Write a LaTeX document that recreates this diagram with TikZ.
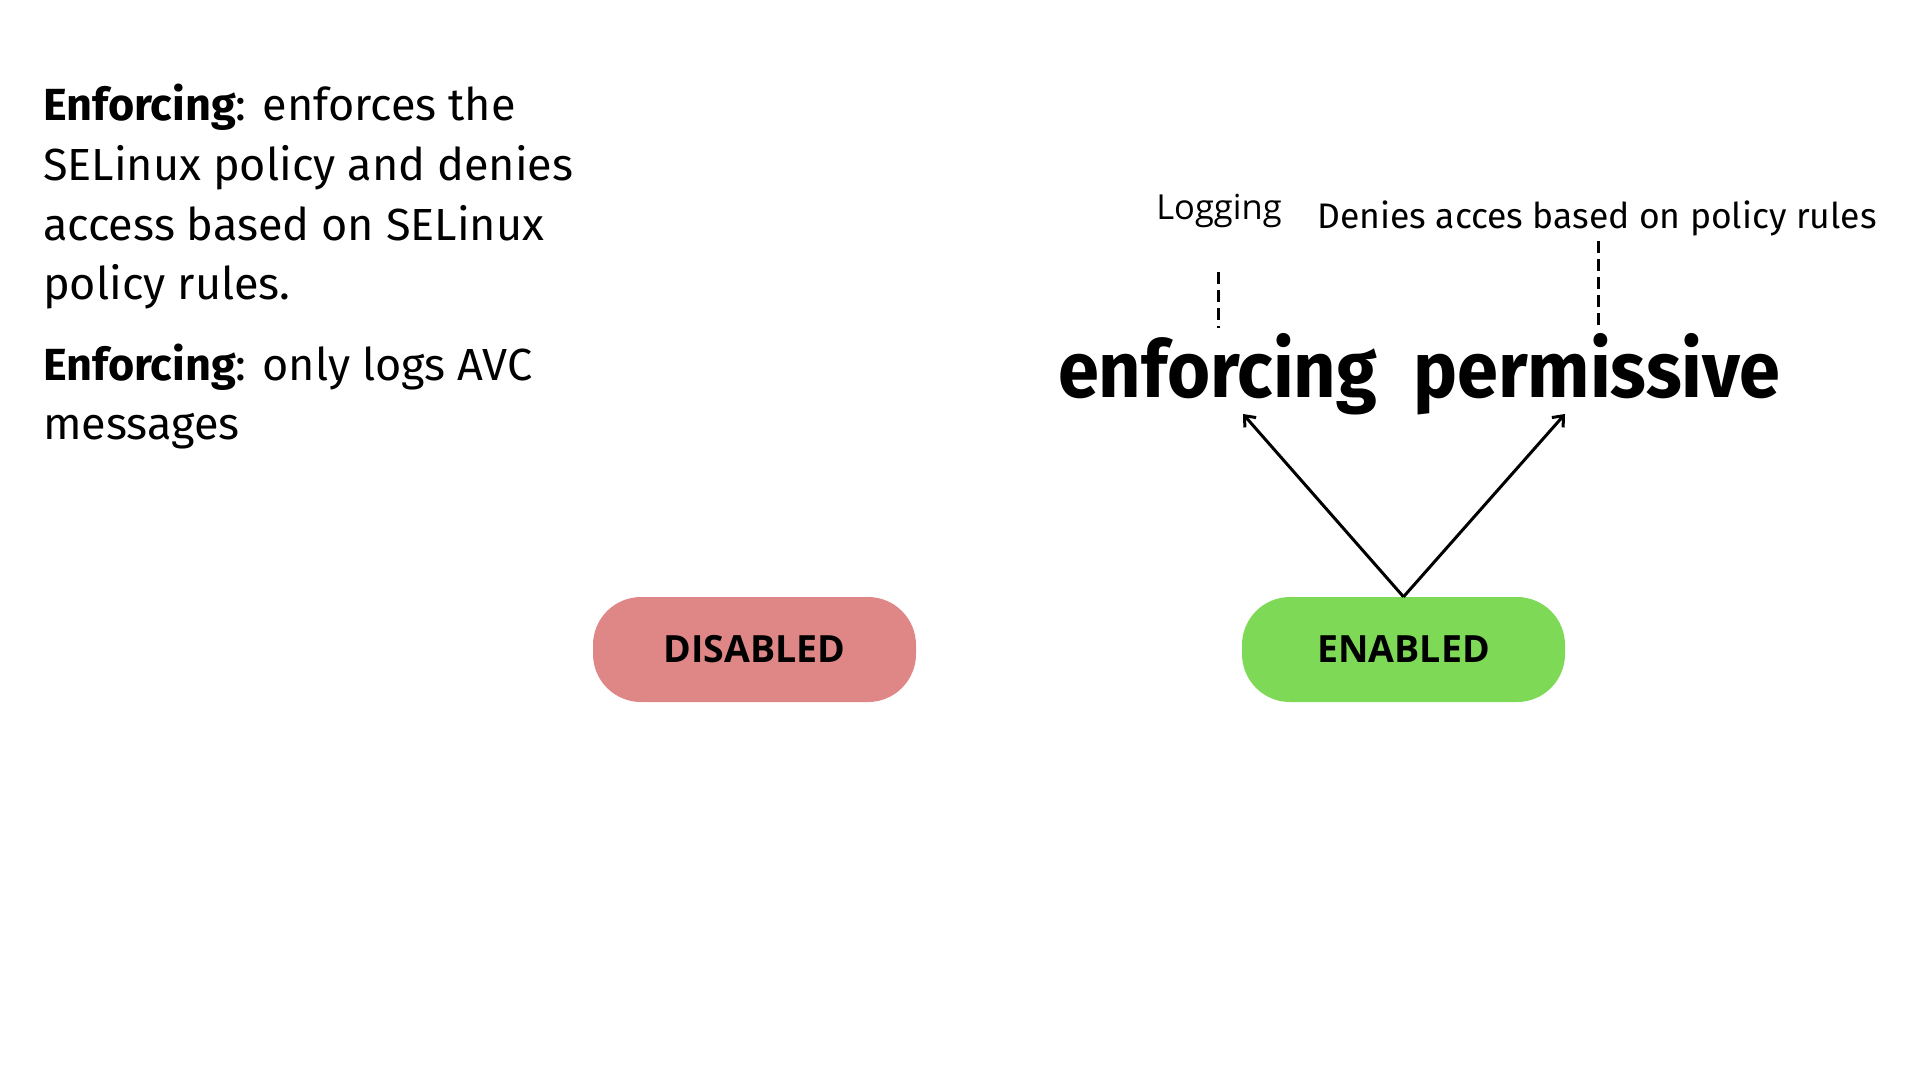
\documentclass[tikz,border=0pt]{standalone}
\usepackage{fontspec}
\setmainfont{Fira Sans}
\newfontfamily\labfont{Open Sans}
\newfontfamily\bigfont{Fira Sans}[FakeStretch=0.935]
\usetikzlibrary{arrows.meta}
\definecolor{disred}{HTML}{DF8686}
\definecolor{engreen}{HTML}{7ED957}
\tikzset{
  bodytext/.style={anchor=base west, inner sep=0pt, font=\fontsize{45}{60}\selectfont},
  bigword/.style={anchor=base west, inner sep=0pt, font=\bigfont\fontsize{79}{90}\selectfont\bfseries},
  smalllab/.style={anchor=base, inner sep=0pt},
  pill/.style={minimum width=323pt, minimum height=105pt, rounded corners=48pt, inner sep=0pt,
    font=\labfont\bfseries\fontsize{37.5}{40}\selectfont},
  guide/.style={line width=3pt, dash pattern=on 12pt off 6pt},
  pointer/.style={line width=3pt, -{Straight Barb[length=9pt,width=15pt,line width=3pt]}}
}
\begin{document}
\begin{tikzpicture}[x=1pt,y=-1pt]
\useasboundingbox (0,0) rectangle (1920,1080);
% left description
\node[bodytext] (l1) at (43,120) {\textbf{Enforcing}: enforces the};
\node[bodytext] (l2) at (43,180) {SELinux policy and denies};
\node[bodytext] (l3) at (43,240) {access based on SELinux};
\node[bodytext] (l4) at (43,299) {policy rules.};
\node[bodytext] (l5) at (43,380) {\textbf{Enforcing}: only logs AVC};
\node[bodytext] (l6) at (43,439) {messages};
% big words
\node[bigword] (enf) at (1058,397) {enforcing};
\node[bigword] (perm) at (1413,397) {permissive};
% annotations
\node[smalllab, font=\labfont\fontsize{34.5}{40}\selectfont] (log) at (1219,219) {Logging};
\node[smalllab, font=\fontsize{35.5}{40}\selectfont] (deny) at (1597,228) {Denies acces based on policy rules};
\coordinate (logtop) at (1218,272);
\coordinate (logbot) at (1218,328);
\coordinate (dentop) at (1598,241);
\coordinate (denbot) at (1598,328);
\draw[guide] (logtop) -- (logbot);
\draw[guide] (dentop) -- (denbot);
% pills
\node[pill, fill=disred] (dis) at (754.5,649.5) {DISABLED};
\node[pill, fill=engreen] (en) at (1403.5,649.5) {ENABLED};
% arrows
\coordinate (tipL) at (1243,414);
\coordinate (tipR) at (1565,414);
\draw[pointer] (en.north) -- (tipL);
\draw[pointer] (en.north) -- (tipR);
\end{tikzpicture}
\end{document}
